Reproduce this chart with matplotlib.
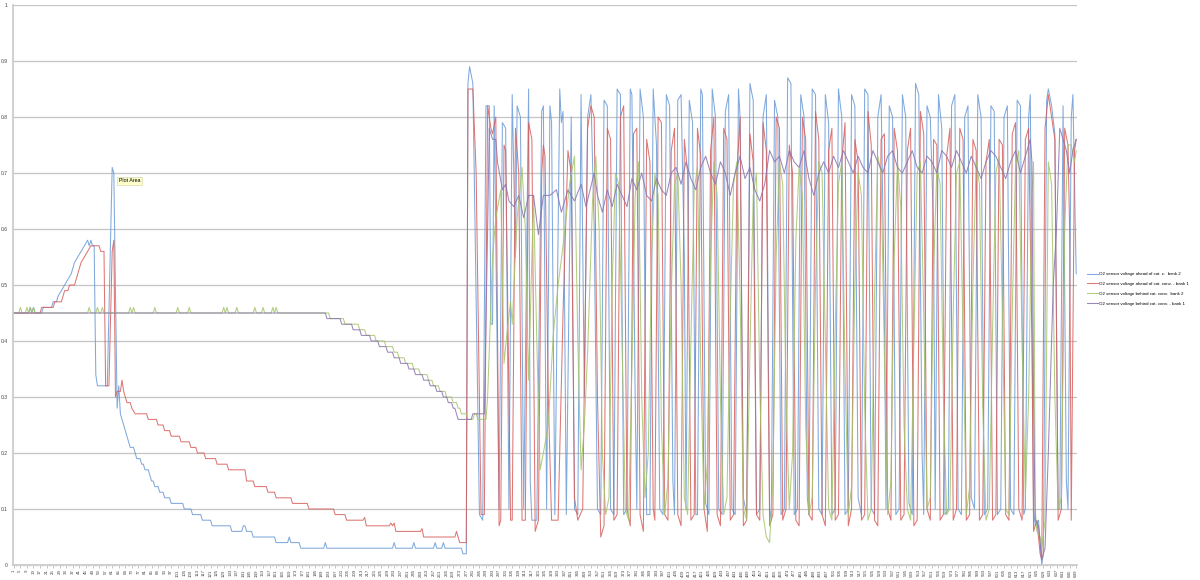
import matplotlib
matplotlib.use("Agg")
import matplotlib.pyplot as plt
import numpy as np

plt.rcParams["font.family"] = ["Liberation Sans", "DejaVu Sans"]

# sample number -> voltage (breakpoints of each trace)
labels = ["O2 sensor voltage ahead of cat. c.  bank 2",
          "O2 sensor voltage ahead of cat. conv. - bank 1",
          "O2 sensor voltage behind cat. conv.  bank 2",
          "O2 sensor voltage behind cat. conv. - bank 1"]
n_samples = 649

# ahead of cat. bank 2 (blue)
blue_warm = [(1, .45), (10, .45), (11, .46), (12, .45), (13, .46), (14, .45), (18, .45), (19, .46),
             (24, .46), (25, .47), (27, .47), (28, .48), (30, .49), (32, .50), (34, .51), (36, .52),
             (38, .54), (40, .55), (42, .56), (44, .57), (46, .58), (47, .57), (48, .58), (49, .57),
             (50, .57), (51, .34), (52, .32), (58, .32), (59, .45), (61, .71), (62, .70), (64, .28),
             (65, .32), (66, .27), (67, .26), (68, .25), (69, .24), (70, .23), (71, .22), (72, .21),
             (74, .21), (75, .20), (76, .19), (78, .19), (79, .18), (80, .18), (81, .17), (83, .17),
             (84, .16), (85, .15), (86, .15), (87, .14), (89, .14), (90, .13), (92, .13), (93, .12),
             (96, .12), (97, .11), (104, .11), (105, .10), (109, .10), (110, .09), (115, .09), (116, .08),
             (121, .08), (122, .07), (133, .07), (134, .06), (140, .06), (141, .07), (142, .07), (143, .06),
             (146, .06), (147, .05), (160, .05), (161, .04), (168, .04), (169, .05), (170, .04), (175, .04),
             (176, .03), (190, .03), (191, .04), (192, .03), (232, .03), (233, .04), (234, .03), (244, .03),
             (245, .04), (246, .03), (257, .03), (258, .04), (259, .03), (262, .03), (263, .04), (264, .03),
             (274, .03), (275, .02), (277, .02)]
blue_loop = [(278, .86), (279, .89), (281, .86), (285, .09), (287, .08), (289, .82), (291, .82), (292, .43),
             (293, .43), (294, .82), (297, .10), (299, .79), (301, .78), (303, .10), (305, .84), (307, .55),
             (308, .82), (310, .80), (312, .10), (315, .85), (316, .15), (317, .08), (320, .08), (323, .81),
             (324, .82), (326, .10), (328, .82), (329, .79), (331, .09), (334, .85), (335, .79), (336, .81),
             (338, .09), (341, .80), (343, .10), (345, .09), (347, .84), (349, .30), (351, .80), (353, .84),
             (355, .60), (357, .10), (359, .09), (361, .83), (363, .82), (365, .10), (367, .09), (369, .85),
             (371, .84), (373, .09), (375, .10), (377, .85), (378, .84), (380, .30), (381, .10), (383, .85),
             (385, .80), (387, .09), (389, .09), (391, .85), (393, .75), (395, .10), (397, .09), (399, .84),
             (401, .82), (403, .15), (404, .09), (406, .83), (408, .84), (410, .55), (411, .10), (413, .83),
             (415, .79), (417, .09), (418, .09), (420, .85), (421, .84), (423, .11), (425, .09), (427, .85),
             (429, .80), (431, .10), (433, .09), (435, .81), (437, .84), (439, .10), (441, .09), (443, .85),
             (444, .80), (446, .12), (448, .09), (450, .86), (452, .83), (454, .09), (456, .10), (458, .80),
             (460, .84), (462, .10), (463, .08), (465, .83), (467, .80), (469, .09), (471, .10), (473, .87),
             (475, .86), (477, .09), (479, .10), (481, .84), (483, .80), (485, .12), (486, .09), (488, .85),
             (490, .84), (492, .10), (494, .09), (496, .84), (498, .79), (500, .09), (502, .10), (504, .85),
             (506, .80), (508, .09), (510, .10), (512, .84), (514, .82), (516, .12), (518, .09), (520, .85),
             (522, .84), (524, .10), (526, .09), (528, .80), (530, .84), (532, .45), (533, .10), (535, .82),
             (537, .80), (539, .09), (541, .10), (543, .84), (545, .80), (547, .11), (549, .09), (551, .86),
             (553, .84), (555, .20), (556, .09), (558, .82), (560, .80), (562, .60), (563, .10), (565, .84),
             (567, .78), (569, .09), (571, .10), (573, .82), (575, .84), (577, .10), (579, .09), (581, .80),
             (583, .82), (585, .12), (587, .10), (589, .84), (591, .80), (593, .09), (595, .10), (597, .82),
             (599, .81), (601, .09), (603, .10), (605, .80), (607, .82), (609, .10), (611, .09), (613, .83),
             (615, .82), (617, .09), (618, .10), (620, .80), (621, .84), (623, .10), (624, .07), (626, .08),
             (628, .00), (629, .02), (631, .83), (632, .85), (634, .82), (636, .77), (638, .10), (639, .10),
             (641, .82), (643, .15), (644, .10), (646, .80), (647, .84), (649, .52)]

# ahead of cat. bank 1 (red)
red_warm = [(1, .45), (17, .45), (18, .46), (25, .46), (26, .47), (30, .47), (31, .48), (32, .49), (34, .49),
            (35, .50), (38, .50), (40, .52), (42, .54), (44, .55), (46, .56), (48, .57), (53, .57), (54, .56),
            (56, .56), (57, .32), (59, .32), (61, .56), (62, .58), (63, .30), (64, .31), (66, .31), (67, .33),
            (68, .31), (70, .29), (72, .29), (73, .28), (75, .27), (82, .27), (83, .26), (88, .26), (89, .25),
            (92, .25), (93, .24), (96, .24), (97, .23), (102, .23), (103, .22), (108, .22), (109, .21),
            (112, .21), (113, .20), (117, .20), (118, .19), (124, .19), (125, .18), (131, .18), (132, .17),
            (142, .17), (143, .15), (147, .15), (148, .14), (155, .14), (156, .13), (160, .13), (161, .12),
            (170, .12), (171, .11), (180, .11), (181, .10), (196, .10), (197, .09), (203, .09), (204, .08),
            (214, .08), (215, .085), (216, .07), (230, .07), (231, .075), (232, .07), (233, .075), (234, .06),
            (249, .06), (250, .065), (251, .05), (270, .05), (271, .06), (272, .05), (273, .04), (277, .04)]
red_loop = [(278, .85), (281, .85), (283, .70), (286, .09), (288, .09), (290, .82), (292, .78), (293, .77),
            (295, .80), (297, .07), (298, .08), (300, .75), (301, .74), (304, .08), (305, .08), (307, .78),
            (309, .70), (311, .08), (313, .08), (315, .79), (317, .76), (319, .06), (321, .08), (323, .70),
            (324, .75), (325, .73), (327, .30), (329, .08), (333, .08), (336, .45), (339, .74), (341, .70),
            (343, .12), (345, .08), (348, .10), (351, .78), (353, .82), (355, .80), (357, .30), (359, .05),
            (361, .07), (363, .78), (365, .76), (367, .08), (369, .09), (371, .80), (373, .82), (375, .10),
            (377, .07), (379, .77), (381, .78), (383, .09), (385, .06), (387, .76), (389, .72), (391, .10),
            (392, .08), (394, .80), (396, .79), (398, .09), (400, .08), (402, .74), (404, .78), (406, .09),
            (408, .07), (410, .76), (412, .70), (414, .08), (416, .09), (418, .78), (420, .73), (422, .10),
            (424, .06), (426, .74), (428, .80), (430, .09), (432, .07), (434, .78), (436, .76), (438, .08),
            (440, .09), (442, .70), (444, .80), (446, .07), (448, .08), (450, .77), (452, .72), (454, .09),
            (456, .08), (458, .79), (460, .74), (462, .07), (464, .09), (466, .80), (468, .78), (470, .08),
            (472, .10), (474, .75), (476, .70), (478, .08), (480, .07), (482, .80), (484, .76), (486, .09),
            (488, .08), (490, .81), (492, .76), (494, .09), (496, .07), (498, .74), (500, .78), (502, .08),
            (504, .09), (506, .72), (508, .79), (510, .07), (512, .10), (514, .76), (516, .72), (518, .08),
            (520, .09), (522, .81), (524, .75), (526, .08), (528, .07), (530, .76), (532, .77), (534, .10),
            (536, .08), (538, .78), (540, .74), (542, .08), (544, .09), (546, .74), (548, .78), (550, .07),
            (552, .08), (554, .81), (556, .77), (558, .10), (560, .08), (562, .76), (564, .75), (566, .08),
            (568, .09), (570, .73), (572, .78), (574, .08), (576, .10), (578, .78), (580, .76), (582, .08),
            (584, .09), (586, .76), (588, .74), (590, .08), (592, .09), (594, .72), (596, .76), (598, .08),
            (600, .09), (602, .76), (604, .75), (606, .09), (608, .08), (610, .77), (612, .79), (614, .10),
            (616, .08), (618, .76), (620, .78), (622, .40), (623, .06), (625, .08), (627, .02), (628, .01),
            (630, .78), (632, .84), (634, .80), (636, .76), (638, .08), (640, .10), (642, .78), (644, .75),
            (645, .60), (646, .08), (648, .74), (649, .76)]

# behind cat. bank 2 (green)
green_warm = [(1, .45), (4, .45), (5, .46), (6, .45), (8, .45), (9, .46), (10, .45), (11, .46), (12, .45),
              (13, .46), (14, .45), (46, .45), (47, .46), (48, .45), (51, .45), (52, .46), (53, .45), (54, .45),
              (55, .46), (56, .45), (71, .45), (72, .46), (73, .45), (74, .46), (75, .45), (86, .45), (87, .46),
              (88, .45), (100, .45), (101, .46), (102, .45), (107, .45), (108, .46), (109, .45), (128, .45),
              (129, .46), (130, .45), (131, .46), (132, .45), (136, .45), (137, .46), (138, .45), (147, .45),
              (148, .46), (149, .45), (152, .45), (153, .46), (154, .45), (158, .45), (159, .46), (160, .45),
              (161, .46), (162, .45), (193, .45), (194, .44), (202, .44), (203, .43), (211, .43), (212, .42),
              (215, .42), (216, .41), (221, .41), (222, .40), (227, .40), (228, .39), (232, .39), (233, .38),
              (235, .38), (236, .37), (239, .37), (240, .36), (244, .36), (245, .35), (248, .35), (249, .34),
              (253, .34), (254, .33), (256, .33), (257, .32), (260, .32), (261, .31), (264, .31), (265, .30),
              (268, .30), (269, .29), (271, .29), (272, .28), (273, .28), (274, .27), (277, .27), (278, .26),
              (281, .26), (282, .27), (283, .27), (284, .26), (289, .26)]
green_loop = [(290, .30), (293, .55), (295, .62), (298, .67), (300, .36), (302, .42), (304, .47), (305, .43),
              (308, .62), (311, .71), (313, .60), (315, .33), (317, .55), (318, .66), (320, .40), (322, .17),
              (324, .20), (327, .25), (330, .41), (333, .50), (336, .57), (340, .68), (343, .73), (345, .40),
              (347, .17), (349, .25), (351, .38), (354, .65), (356, .73), (358, .60), (360, .20), (362, .09),
              (364, .12), (366, .50), (368, .70), (370, .68), (372, .40), (374, .10), (376, .08), (378, .35),
              (380, .66), (382, .72), (384, .30), (386, .12), (388, .20), (390, .55), (392, .70), (394, .66),
              (396, .25), (398, .09), (400, .15), (402, .48), (404, .68), (406, .70), (408, .50), (410, .12),
              (412, .09), (414, .40), (416, .67), (418, .71), (420, .35), (422, .10), (424, .18), (426, .55),
              (428, .72), (430, .66), (432, .30), (434, .09), (436, .12), (438, .45), (440, .68), (442, .72),
              (444, .48), (446, .10), (448, .08), (450, .38), (452, .66), (454, .70), (456, .32), (458, .09),
              (460, .05), (462, .04), (464, .15), (466, .55), (468, .72), (470, .68), (472, .30), (474, .10),
              (476, .20), (478, .58), (480, .71), (482, .66), (484, .25), (486, .09), (488, .12), (490, .50),
              (492, .72), (494, .70), (496, .40), (498, .10), (500, .08), (502, .42), (504, .68), (506, .72),
              (508, .35), (510, .09), (512, .14), (514, .50), (516, .70), (518, .66), (520, .28), (522, .08),
              (524, .10), (526, .48), (528, .73), (530, .70), (532, .38), (534, .09), (536, .15), (538, .55),
              (540, .72), (542, .64), (544, .25), (546, .10), (548, .08), (550, .40), (552, .70), (554, .72),
              (556, .45), (558, .10), (560, .12), (562, .52), (564, .71), (566, .68), (568, .30), (570, .09),
              (572, .10), (574, .45), (576, .70), (578, .72), (580, .40), (582, .09), (584, .14), (586, .50),
              (588, .72), (590, .68), (592, .28), (594, .08), (596, .10), (598, .42), (600, .70), (602, .73),
              (604, .45), (606, .10), (608, .09), (610, .45), (612, .71), (614, .74), (616, .40), (618, .12),
              (620, .30), (622, .66), (623, .72), (624, .10), (625, .06), (627, .05), (628, .03), (630, .08),
              (632, .72), (634, .68), (636, .30), (638, .10), (640, .12), (642, .60), (644, .75), (646, .75),
              (648, .72), (649, .74)]

# behind cat. bank 1 (purple)
purple_warm = [(1, .45), (191, .45), (192, .44), (200, .44), (201, .43), (207, .43), (208, .42), (212, .42),
               (213, .41), (218, .41), (219, .40), (223, .40), (224, .39), (228, .39), (229, .38), (232, .38),
               (233, .37), (236, .37), (237, .36), (241, .36), (242, .35), (245, .35), (246, .34), (250, .34),
               (251, .33), (254, .33), (255, .32), (258, .32), (259, .31), (262, .31), (263, .30), (265, .30),
               (266, .29), (268, .29), (269, .28), (270, .28), (271, .27), (272, .26), (280, .26), (281, .27),
               (288, .27)]
purple_loop = [(290, .60), (291, .78), (293, .76), (295, .76), (296, .72), (299, .67), (301, .68), (303, .65),
               (306, .64), (309, .66), (312, .62), (315, .66), (318, .66), (321, .59), (324, .66), (328, .66),
               (332, .67), (335, .63), (339, .67), (343, .65), (347, .68), (350, .64), (355, .70), (357, .66),
               (360, .63), (363, .67), (366, .64), (369, .68), (372, .66), (375, .64), (378, .69), (381, .67),
               (384, .70), (387, .66), (390, .65), (393, .69), (396, .67), (399, .66), (402, .70), (405, .71),
               (408, .68), (411, .72), (414, .69), (417, .67), (420, .71), (423, .73), (426, .70), (429, .68),
               (432, .72), (435, .70), (438, .66), (441, .70), (444, .73), (447, .69), (450, .71), (453, .67),
               (456, .65), (459, .68), (462, .74), (465, .72), (468, .73), (471, .70), (474, .74), (477, .72),
               (480, .71), (483, .74), (486, .69), (489, .66), (492, .70), (495, .72), (498, .70), (501, .73),
               (504, .71), (507, .74), (510, .72), (513, .70), (516, .73), (519, .71), (522, .70), (525, .74),
               (528, .72), (531, .70), (534, .73), (537, .74), (540, .71), (543, .70), (546, .72), (549, .74),
               (552, .71), (555, .70), (558, .73), (561, .72), (564, .70), (567, .74), (570, .73), (573, .71),
               (576, .74), (579, .72), (582, .70), (585, .73), (588, .71), (591, .69), (594, .72), (597, .74),
               (600, .73), (603, .71), (606, .69), (609, .72), (612, .74), (615, .70), (618, .73), (621, .76),
               (622, .72), (623, .30), (624, .08), (626, .07), (628, .01), (630, .03), (632, .20), (635, .50),
               (637, .60), (639, .78), (641, .76), (643, .74), (645, .70), (647, .74), (649, .76)]

series = [blue_warm + blue_loop, red_warm + red_loop,
          green_warm + green_loop, purple_warm + purple_loop]
colors = ["#6a9ad6", "#d65f5c", "#a5c46a", "#8a73b0"]

fig = plt.figure(figsize=(12, 5.8), dpi=100)
ax = fig.add_axes([13 / 1200, 1 - 565 / 580, 1064 / 1200, 560 / 580])

for pts, c, lab in zip(series, colors, labels):
    x, y = zip(*pts)
    ax.plot(x, y, color=c, lw=0.75, alpha=0.85, label=lab, solid_joinstyle="round")

ax.set_xlim(0.5, n_samples + 0.5)
ax.set_ylim(0, 1)
yt = np.round(np.arange(0, 1.01, 0.1), 1)
ax.set_yticks(yt)
ax.set_yticklabels(["0" if v == 0 else ("1" if v == 1 else f"{v:g}") for v in yt])
ax.yaxis.grid(True, color="#c4c4c4", lw=0.9)
ax.set_axisbelow(True)

xt = np.arange(1, n_samples + 1, 4)
ax.set_xticks(xt)
ax.set_xticklabels([str(v) for v in xt], rotation=90)
ax.set_xticks(np.arange(1, n_samples + 1, 2), minor=True)
ax.tick_params(axis="x", which="major", labelsize=3.2, length=2, width=0.4, color="#999999",
               pad=1, labelcolor="#444444")
ax.tick_params(axis="x", which="minor", length=1.5, width=0.3, color="#aaaaaa")
ax.tick_params(axis="y", length=0, labelsize=3.6, pad=4, labelcolor="#444444")

for side in ["top", "right"]:
    ax.spines[side].set_visible(False)
ax.spines["left"].set_color("#c8c8c8")
ax.spines["bottom"].set_color("#c8c8c8")
ax.spines["left"].set_linewidth(1.2)
ax.spines["bottom"].set_linewidth(1.2)

fig.legend(loc="upper left", bbox_to_anchor=(1087 / 1200, 1 - 272 / 580), fontsize=3.2,
           frameon=False, handlelength=2.4, handletextpad=0.3, labelspacing=1.3, borderaxespad=0,
           borderpad=0)

fig.text(119 / 1200, 1 - 181 / 580, "Plot Area", fontsize=3.8, va="center", ha="left",
         bbox=dict(boxstyle="square,pad=0.35", facecolor="#ffffcc", edgecolor="#cfcfa8", lw=0.4))

fig.savefig("out.png", dpi=100)
